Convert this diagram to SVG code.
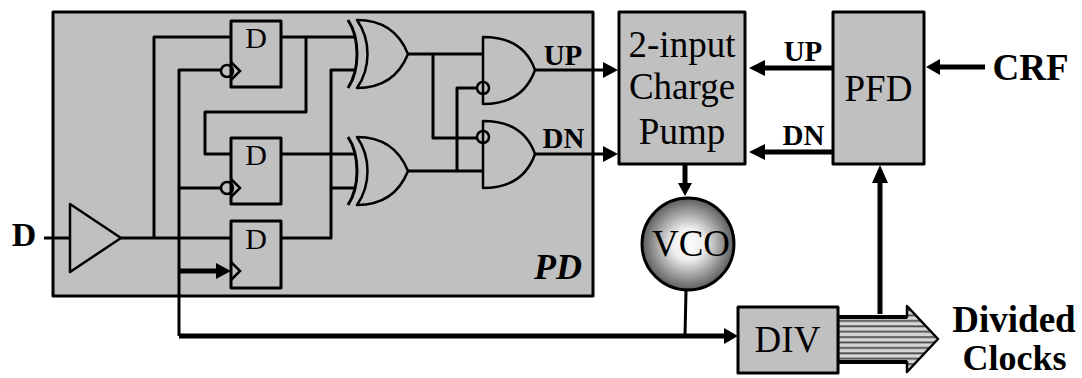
<svg xmlns="http://www.w3.org/2000/svg" width="1082" height="378" viewBox="0 0 1082 378">
<style>
text{font-family:"Liberation Serif","Times New Roman",serif;fill:#000;text-anchor:middle}
.b{font-weight:bold}
.box{fill:#c0c0c0;stroke:#000;stroke-width:3;stroke-linejoin:round}
.gate{fill:#c0c0c0;stroke:#000;stroke-width:2.5;stroke-linejoin:round}
.w{fill:none;stroke:#000;stroke-width:3;stroke-linejoin:round}
.t{fill:none;stroke:#000;stroke-width:5}
.bub{fill:none;stroke:#000;stroke-width:2.5}
.big{font-size:37px}
.mid{font-size:29px}
.d{font-size:30px}
</style>
<defs>
<radialGradient id="vco" cx="50%" cy="50%" r="50%"><stop offset="0" stop-color="#fff"/><stop offset="0.35" stop-color="#eee"/><stop offset="1" stop-color="#5c5c5c"/></radialGradient>
<pattern id="stripes" width="8" height="5.400" patternUnits="userSpaceOnUse" y="317"><rect width="8" height="5.400" fill="#d6d6d6"/><rect width="8" height="1.800" y="3" fill="#4a4a4a"/></pattern>
<path id="xor" class="gate" d="M357 20C385 20 400 34 408 54C400 74 385 88 357 88C371 68 371 40 357 20Z"/>
<path id="xorb" class="w" d="M348 20C360 38 360 70 348 88"/>
<path id="and" class="gate" d="M483 37C512 37 528 50 535 70C528 90 512 104 483 104Z"/>
<g id="ffclk"><circle cx="227" cy="71" r="6" class="bub"/><path d="M231 62L240 71L231 80" class="bub"/></g>
</defs>
<g id="pd"><rect x="53" y="12" width="540" height="284" class="box"/><text x="558" y="279" font-size="36" font-style="italic" font-weight="bold">PD</text></g>
<g id="connectors">
<path class="w" d="M154 238V37H231M281 37H356M306 37V112H205V154H231M281 154H356M44 238H70M121 238H231M281 238H331V70H356M331 188H356M179 336V70H222M179 188H222"/>
<path class="w" d="M408 54H483M433 54V138H478M408 171H483M457 171V88H478M535 70H606M535 154H606"/>
<path class="t" d="M179 271H218"/><path d="M216 263L231 271L216 279Z"/>
<path class="t" d="M179 336H726"/><path d="M724 328L738 336L724 344Z"/>
<path class="w" d="M686 291L685 336"/>
<path d="M603 62L618 70L603 78Z"/><path d="M603 146L618 154L603 162Z"/>
<path class="t" d="M833 68H762"/><path d="M749 68L765 60V76Z"/>
<path class="t" d="M833 152H762"/><path d="M749 152L765 144V160Z"/>
<path class="t" d="M985 67H938"/><path d="M926 67L940 59V75Z"/>
<path class="t" d="M685 164V185"/><path d="M678 183H692L685 196Z"/>
<path class="t" d="M880 314V178"/><path d="M872 183L880 165L888 183Z"/>
</g>
<g id="ff1"><rect x="231" y="21" width="50" height="66" class="box"/><text class="d" x="256" y="48">D</text><use href="#ffclk"/></g>
<g id="ff2"><rect x="231" y="138" width="50" height="66" class="box"/><text class="d" x="256" y="165">D</text><use href="#ffclk" y="117"/></g>
<g id="ff3"><rect x="231" y="221" width="50" height="67" class="box"/><path d="M231 262L240 271L231 280" class="bub"/><text class="d" x="256" y="249">D</text></g>
<g id="buf"><path d="M70 204L121 238L70 272Z" class="gate"/></g>
<g id="xor1"><use href="#xorb"/><use href="#xor"/></g>
<g id="xor2"><use href="#xorb" y="117"/><use href="#xor" y="117"/></g>
<g id="and1"><use href="#and"/><circle cx="483" cy="88" r="6" class="bub"/></g>
<g id="and2"><use href="#and" y="84"/><circle cx="483" cy="137" r="6" class="bub"/></g>
<g id="cp"><rect x="619" y="12" width="126" height="152" class="box"/><text class="big" x="682" y="57">2-input</text><text class="big" x="682" y="99">Charge</text><text class="big" x="682" y="144">Pump</text></g>
<g id="pfd"><rect x="833" y="12" width="91" height="152" class="box"/><text class="big" x="878.500" y="101">PFD</text></g>
<g id="vco-node"><circle cx="688" cy="244" r="46" fill="url(#vco)" stroke="#000" stroke-width="3"/><text class="big" x="691" y="256">VCO</text></g>
<g id="bus"><path d="M838 317H907V306L938 339L907 372V362H838Z" fill="url(#stripes)" stroke="#000" stroke-width="2.500" stroke-linejoin="round"/><path d="M838 317H907M838 362H907" fill="none" stroke="#000" stroke-width="4"/></g>
<g id="div"><rect x="738" y="307" width="100" height="66" class="box"/><text class="big" x="787.500" y="352">DIV</text></g>
<g id="labels">
<text class="b" x="24" y="246" font-size="34">D</text>
<text class="b mid" x="563" y="65">UP</text><text class="b mid" x="563.500" y="148">DN</text>
<text class="b mid" x="803" y="61">UP</text><text class="b mid" x="803.500" y="145">DN</text>
<text class="b big" x="1030.500" y="80">CRF</text>
<text class="b big" x="1014" y="332">Divided</text><text class="b" font-size="36" x="1014.500" y="370">Clocks</text>
</g>
</svg>
